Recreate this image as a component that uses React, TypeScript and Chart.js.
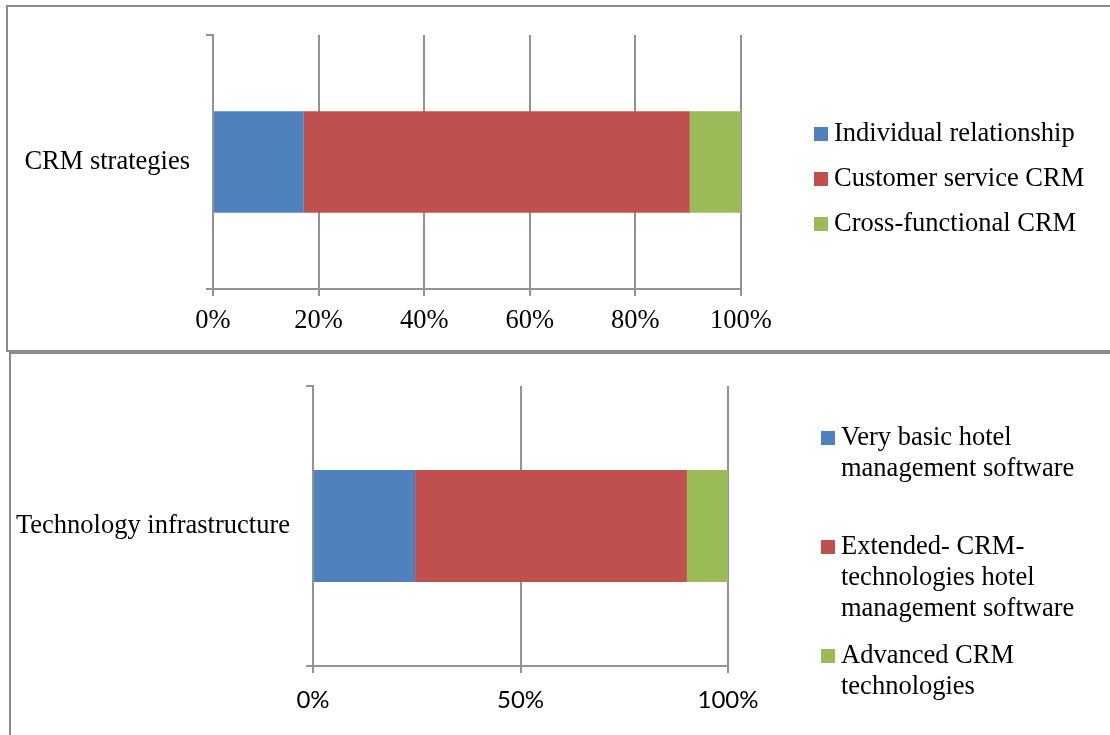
import React, { useEffect, useRef } from 'react';
import { Chart, registerables } from 'chart.js';

Chart.register(...registerables);

// CRM strategies panel
const crmCategories = ['CRM strategies'];
const crmSeries = ['Individual relationship', 'Customer service CRM', 'Cross-functional CRM'];
const crmValues = [17.2, 73.1, 9.7];
const crmTicks = [0, 20, 40, 60, 80, 100];

// Technology infrastructure panel
const techCategories = ['Technology infrastructure'];
const techSeries = [
  'Very basic hotel management software',
  'Extended- CRM- technologies hotel management software',
  'Advanced CRM technologies',
];
const techValues = [24.6, 65.5, 9.9];
const techTicks = [0, 50, 100];

const seriesColors = ['#4F81BD', '#C0504D', '#9BBB59'];

const GRID = '#939393';
const SERIF = '"Liberation Serif", "Times New Roman", serif';
const SANS = 'Lato, "Open Sans", sans-serif';
const TEXT_SIZE = 26.5;

type LegendLayout = {
  boxX: number;
  textX: number;
  firstY: number;
  step: number;
  lineHeight: number;
  maxWidth: number;
};

type PanelProps = {
  categories: string[];
  series: string[];
  values: number[];
  ticks: number[];
  width: number;
  height: number;
  area: { left: number; top: number; right: number; bottom: number };
  tickFont: { family: string; size: number };
  tickPadding: number;
  legend: LegendLayout;
};

function wrapText(ctx: CanvasRenderingContext2D, text: string, maxWidth: number): string[] {
  const words = text.split(' ');
  const lines: string[] = [];
  let current = '';
  for (const w of words) {
    const trial = current ? current + ' ' + w : w;
    if (current && ctx.measureText(trial).width > maxWidth) {
      lines.push(current);
      current = w;
    } else {
      current = trial;
    }
  }
  if (current) lines.push(current);
  return lines;
}

function makeSideLegend(layout: LegendLayout) {
  return {
    id: 'sideLegend',
    afterDraw(chart: Chart) {
      const ctx = chart.ctx;
      ctx.save();
      ctx.font = `${TEXT_SIZE}px ${SERIF}`;
      ctx.textBaseline = 'middle';
      ctx.textAlign = 'left';
      chart.data.datasets.forEach((ds, i) => {
        const y0 = layout.firstY + i * layout.step;
        ctx.fillStyle = ds.backgroundColor as string;
        ctx.fillRect(layout.boxX, y0 - 7, 14, 14);
        ctx.fillStyle = '#000';
        const lines = wrapText(ctx, String(ds.label), layout.maxWidth);
        lines.forEach((ln, k) => {
          ctx.fillText(ln, layout.textX, y0 + k * layout.lineHeight);
        });
      });
      ctx.restore();
    },
  };
}

function StackedPanel(props: PanelProps) {
  const ref = useRef<HTMLCanvasElement | null>(null);

  useEffect(() => {
    if (!ref.current) return;
    const { categories, series, values, ticks, width, height, area, tickFont, tickPadding, legend } = props;
    const chart = new Chart(ref.current, {
      type: 'bar',
      data: {
        labels: categories,
        datasets: series.map((name, i) => ({
          label: name,
          data: [values[i]],
          backgroundColor: seriesColors[i],
          borderWidth: 0,
          barPercentage: 0.4,
          categoryPercentage: 1,
        })),
      },
      options: {
        indexAxis: 'y',
        responsive: false,
        animation: false,
        devicePixelRatio: 1,
        layout: { padding: { left: 0, top: area.top, right: width - area.right, bottom: 0 } },
        plugins: { legend: { display: false }, tooltip: { enabled: false } },
        scales: {
          x: {
            stacked: true,
            min: 0,
            max: 100,
            afterBuildTicks: (s: any) => {
              s.ticks = ticks.map((v) => ({ value: v }));
            },
            afterFit: (s: any) => {
              s.height = height - area.bottom;
            },
            grid: { color: GRID, lineWidth: 2, tickLength: 7, drawTicks: true },
            border: { color: GRID, width: 2 },
            ticks: {
              font: tickFont,
              color: '#000',
              padding: tickPadding,
              maxRotation: 0,
              autoSkip: false,
              callback: (v: any) => v + '%',
            },
          },
          y: {
            stacked: true,
            afterFit: (s: any) => {
              s.width = area.left;
            },
            grid: { offset: true, drawOnChartArea: false, color: GRID, lineWidth: 2, tickLength: 7 },
            border: { color: GRID, width: 2 },
            // single-line category label: a compact line height keeps it from padding the plot top
            ticks: { font: { family: SERIF, size: TEXT_SIZE, lineHeight: 0.5 }, color: '#000', padding: 16 },
          },
        },
      },
      plugins: [makeSideLegend(legend)],
    });
    return () => chart.destroy();
  }, []);

  return (
    <canvas
      ref={ref}
      width={props.width}
      height={props.height}
      style={{ display: 'block', width: props.width, height: props.height }}
    />
  );
}

export default function App() {
  const border = '2px solid #8a8a8a';
  return (
    <div
      style={{
        position: 'absolute',
        left: 0,
        top: 0,
        width: 1110,
        height: 735,
        overflow: 'hidden',
        background: '#fff',
      }}
    >
      <div
        style={{
          position: 'absolute',
          left: 6,
          top: 5,
          width: 1120,
          height: 343,
          borderTop: border,
          borderLeft: border,
          borderBottom: border,
        }}
      >
        <StackedPanel
          categories={crmCategories}
          series={crmSeries}
          values={crmValues}
          ticks={crmTicks}
          width={1102}
          height={343}
          area={{ left: 205, top: 28, right: 733, bottom: 282 }}
          tickFont={{ family: SERIF, size: TEXT_SIZE }}
          tickPadding={9}
          legend={{ boxX: 806, textX: 826, firstY: 127, step: 45, lineHeight: 31, maxWidth: 400 }}
        />
      </div>
      <div
        style={{
          position: 'absolute',
          left: 9,
          top: 352,
          width: 1110,
          height: 390,
          borderTop: border,
          borderLeft: border,
        }}
      >
        <StackedPanel
          categories={techCategories}
          series={techSeries}
          values={techValues}
          ticks={techTicks}
          width={1099}
          height={381}
          area={{ left: 302, top: 32, right: 717, bottom: 312 }}
          tickFont={{ family: SANS, size: 24 }}
          tickPadding={13}
          legend={{ boxX: 810, textX: 830, firstY: 84, step: 109, lineHeight: 31, maxWidth: 255 }}
        />
      </div>
    </div>
  );
}
